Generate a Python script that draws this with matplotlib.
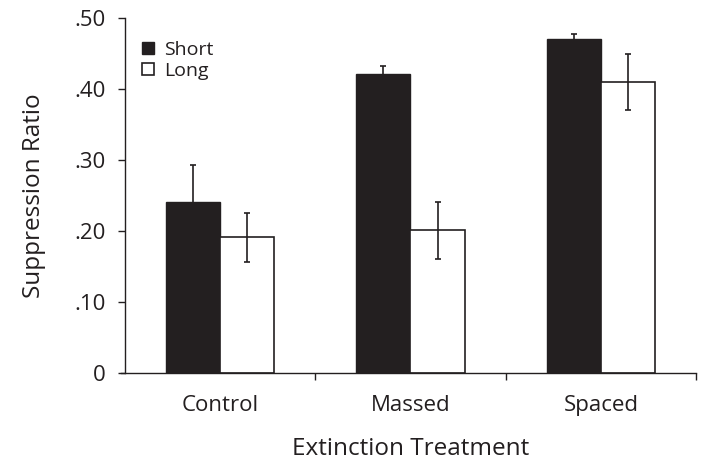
import numpy as np
import matplotlib.pyplot as plt
from matplotlib.ticker import FuncFormatter

plt.rcParams['font.family'] = ['Open Sans', 'DejaVu Sans']

# Data
groups = ['Control', 'Massed', 'Spaced']
short_vals = [0.241, 0.421, 0.470]
short_err = [0.052, 0.011, 0.008]
long_vals = [0.191, 0.201, 0.410]
long_err = [0.035, 0.040, 0.040]

DARK = '#231f20'
WIDTH = 0.285

fig = plt.figure(figsize=(7.01, 4.65), dpi=100)
ax = fig.add_axes([0.178, 0.198, 0.815, 0.763])

x = np.arange(len(groups))
ax.bar(x - WIDTH / 2, short_vals, WIDTH, color=DARK, edgecolor=DARK,
       linewidth=1.0, label='Short', zorder=2)
ax.bar(x + WIDTH / 2, long_vals, WIDTH, color='white', edgecolor=DARK,
       linewidth=1.2, label='Long', zorder=2)
ax.errorbar(x - WIDTH / 2, short_vals, yerr=short_err, fmt='none',
            ecolor=DARK, elinewidth=1.2, capsize=2, capthick=1.2, zorder=3)
ax.errorbar(x + WIDTH / 2, long_vals, yerr=long_err, fmt='none',
            ecolor=DARK, elinewidth=1.2, capsize=2, capthick=1.2, zorder=3)

ax.set_xlim(-0.5, 2.5)
ax.set_ylim(0, 0.5)
ax.set_yticks(np.arange(0, 0.51, 0.1))
ax.yaxis.set_major_formatter(FuncFormatter(
    lambda v, p: '0' if v == 0 else ('%.2f' % v).lstrip('0')))

# category labels in the middle, tick marks between groups
ax.set_xticks(x)
ax.set_xticklabels(groups)
ax.set_xticks([0.5, 1.5, 2.5], minor=True)
ax.tick_params(axis='x', which='major', length=0, pad=16, labelsize=16,
               labelcolor=DARK)
ax.tick_params(axis='x', which='minor', length=5, width=1.0, color=DARK)
ax.tick_params(axis='y', length=5, width=1.0, color=DARK, labelsize=16,
               pad=9, labelcolor=DARK)

for s in ['top', 'right']:
    ax.spines[s].set_visible(False)
for s in ['left', 'bottom']:
    ax.spines[s].set_color(DARK)
    ax.spines[s].set_linewidth(1.0)
ax.spines['bottom'].set_bounds(-0.52, 2.5)

ax.set_xlabel('Extinction Treatment', fontsize=17.5, labelpad=15, color=DARK)
ax.set_ylabel('Suppression Ratio', fontsize=17.5, labelpad=20, color=DARK)

ax.legend(loc='upper left', bbox_to_anchor=(0.0, 0.985), frameon=False,
          handlelength=0.6, handleheight=0.6, handletextpad=0.5,
          labelspacing=0.15, fontsize=14, labelcolor=DARK)

fig.savefig('out.png', dpi=100)
